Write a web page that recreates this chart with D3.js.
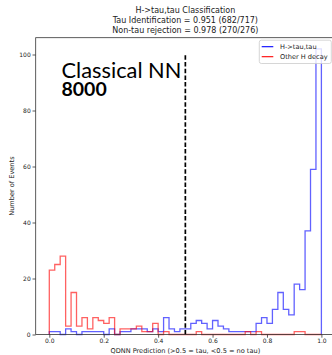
<!DOCTYPE html>
<html>
<head>
<meta charset="utf-8">
<script src="https://cdn.jsdelivr.net/npm/d3@7"></script>
<style>
  html, body { margin: 0; padding: 0; background: #fff; }
  svg { display: block; }
</style>
</head>
<body>
<svg id="chart" width="332" height="355"></svg>
<script>
// ---- data ----
const titleLines = [
  "H->tau,tau Classification",
  "Tau Identification = 0.951 (682/717)",
  "Non-tau rejection = 0.978 (270/276)"
];
const seriesNames = ["H->tau,tau", "Other H decay"];
const seriesColors = ["#0000ff", "#ff0000"];
const binStart = 0.0, binStep = 0.02, binCount = 50;
// counts per bin (0.00-0.02, 0.02-0.04, ... 0.98-1.00)
const tauCounts = [
  1, 1, 0, 2, 1, 0, 1, 1, 1, 1,
  0, 2, 0, 1, 1, 2, 2, 2, 1, 2,
  1, 6, 2, 1, 2, 2, 4, 5, 4, 2,
  5, 3, 2, 1, 1, 1, 1, 1, 4, 6,
  4, 9, 15, 9, 7, 18, 16, 37, 59, 102
];
const otherCounts = [
  23, 25, 28, 3, 15, 3, 6, 2, 6, 5,
  4, 6, 0, 2, 2, 2, 3, 1, 1, 4,
  0, 1, 0, 0, 0, 0, 0, 1, 0, 0,
  0, 0, 0, 0, 0, 0, 1, 0, 1, 0,
  0, 0, 0, 0, 0, 1, 1, 0, 0, 0
];
const xTicks = [0.0, 0.2, 0.4, 0.6, 0.8, 1.0];
const yTicks = [0, 20, 40, 60, 80, 100];
const cutValue = 0.5;
const cutTop = 100;
const xLabel = "QDNN Prediction (>0.5 = tau, <0.5 = no tau)";
const yLabel = "Number of Events";
const noteLine1 = "Classical NN";
const noteLine2 = "8000";

// ---- layout ----
const svg = d3.select("#chart");
const L = 35.7, R = 335, T = 37.7, B = 334.5;
const x = d3.scaleLinear().domain([-0.05, 1.05]).range([L, R]);
const y = d3.scaleLinear().domain([0, 106]).range([B, T]);
const edges = d3.range(binCount + 1).map(i => +(binStart + i * binStep).toFixed(4));

function stepPath(counts) {
  const pts = [[edges[0], 0]];
  counts.forEach((c, i) => { pts.push([edges[i], c]); pts.push([edges[i + 1], c]); });
  pts.push([edges[binCount], 0]);
  return d3.line().x(d => x(d[0])).y(d => y(d[1]))(pts);
}

const font = "DejaVu Sans, sans-serif";

// histograms
[tauCounts, otherCounts].forEach((c, k) => {
  svg.append("path")
    .attr("d", stepPath(c))
    .attr("fill", "none")
    .attr("stroke", seriesColors[k])
    .attr("stroke-opacity", 0.62)
    .attr("stroke-width", 1.3)
    .attr("stroke-linejoin", "miter");
});

// cut line
svg.append("line")
  .attr("x1", x(cutValue)).attr("x2", x(cutValue))
  .attr("y1", y(0)).attr("y2", y(cutTop))
  .attr("stroke", "#000").attr("stroke-width", 1.7)
  .attr("stroke-dasharray", "4.5,2.2");

// spines
const spine = svg.append("g").attr("stroke", "#333").attr("stroke-width", 0.8).attr("fill", "none");
spine.append("rect").attr("x", L).attr("y", T).attr("width", R - L).attr("height", B - T);

// axes
const xAxis = d3.axisBottom(x).tickValues(xTicks).tickFormat(d3.format(".1f")).tickSize(3.2).tickPadding(1.5);
const gx = svg.append("g").attr("transform", `translate(0,${B})`).call(xAxis);
const yAxis = d3.axisLeft(y).tickValues(yTicks).tickFormat(d3.format("d")).tickSize(3.2).tickPadding(1.8);
const gy = svg.append("g").attr("transform", `translate(${L},0)`).call(yAxis);
[gx, gy].forEach(g => {
  g.select(".domain").remove();
  g.selectAll("line").attr("stroke", "#333").attr("stroke-width", 0.8);
  g.selectAll("text").attr("font-family", font).attr("font-size", 6).attr("fill", "#222");
});

// axis labels
svg.append("text").attr("x", (L + R) / 2).attr("y", 353)
  .attr("text-anchor", "middle").attr("font-family", font).attr("font-size", 6.6).attr("fill", "#222")
  .text(xLabel);
svg.append("text").attr("transform", `translate(14,${(T + B) / 2}) rotate(-90)`)
  .attr("text-anchor", "middle").attr("font-family", font).attr("font-size", 6.6).attr("fill", "#222")
  .text(yLabel);

// title
titleLines.forEach((t, i) => {
  svg.append("text").attr("x", (L + R) / 2).attr("y", 13 + i * 10.2)
    .attr("text-anchor", "middle").attr("font-family", font).attr("font-size", 8).attr("fill", "#222")
    .text(t);
});

// annotation (one text block, two lines)
const note = svg.append("text").attr("x", 61.5).attr("y", 78.3)
  .attr("font-family", "Lato, sans-serif").attr("fill", "#000");
note.append("tspan").attr("x", 61.5).attr("font-size", 21.8).text(noteLine1);
note.append("tspan").attr("x", 61.5).attr("dy", 17.2)
  .attr("font-weight", "bold").attr("font-size", 19.5).text(noteLine2);

// legend
const lg = svg.append("g");
lg.append("rect").attr("x", 259.3).attr("y", 40.2).attr("width", 72).attr("height", 23.3).attr("rx", 2)
  .attr("fill", "#fff").attr("fill-opacity", 0.8).attr("stroke", "#ccc").attr("stroke-width", 0.8);
seriesNames.forEach((n, i) => {
  const yy = 46.7 + i * 10;
  lg.append("line").attr("x1", 261.7).attr("x2", 273.3).attr("y1", yy).attr("y2", yy)
    .attr("stroke", seriesColors[i]).attr("stroke-width", 1.1);
  lg.append("text").attr("x", 280).attr("y", yy + 2.3)
    .attr("font-family", font).attr("font-size", 6.6).attr("fill", "#222").text(n);
});
</script>
</body>
</html>
